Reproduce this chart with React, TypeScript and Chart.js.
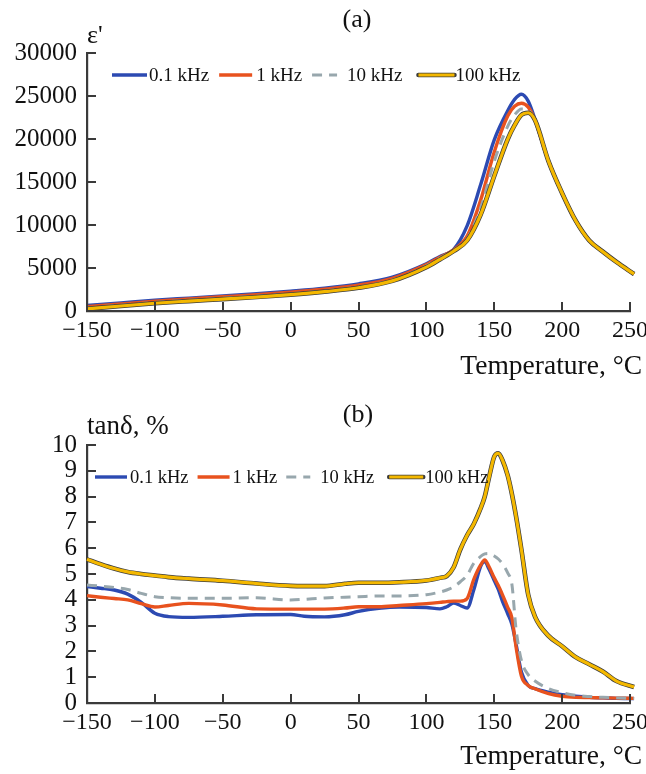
import React, { useEffect, useRef } from 'react';
import { Chart, registerables } from 'chart.js';

Chart.register(...registerables);

const FONT = '"Liberation Serif", "Times New Roman", serif';
const AXIS_COLOR = '#3a3a3a';
const TEXT_COLOR = '#111111';

const seriesLabels = ['0.1 kHz', '1 kHz', '10 kHz', '100 kHz'];
const seriesColors = ['#2C4AB2', '#E8521E', '#98A7AD', '#F4B800'];

const xTicks = [-150, -100, -50, 0, 50, 100, 150, 200, 250];
const yTicksA = [0, 5000, 10000, 15000, 20000, 25000, 30000];
const yTicksB = [0, 1, 2, 3, 4, 5, 6, 7, 8, 9, 10];

// Panel (a): dielectric permittivity
const tempA = [-150, -125, -100, -75, -50, -25, 0, 25, 50, 75, 100, 110, 120, 130, 140, 150, 160, 165, 170, 175, 180, 190, 200, 210, 220, 230, 240, 253];
const epsA01 = [650, 950, 1250, 1500, 1750, 2000, 2300, 2650, 3150, 3950, 5500, 6350, 7150, 9900, 14700, 19900, 23300, 24600, 25200, 24400, 22300, 17400, 13700, 10500, 8200, 6900, 5700, 4300];
const epsA1 = [500, 820, 1130, 1400, 1650, 1900, 2200, 2550, 3000, 3800, 5400, 6250, 7100, 8700, 12900, 18500, 22700, 23800, 24150, 23700, 22200, 17400, 13700, 10500, 8200, 6900, 5700, 4300];
const epsA10 = [350, 680, 1000, 1250, 1480, 1720, 2000, 2350, 2800, 3600, 5250, 6150, 7050, 8400, 12000, 17400, 21500, 22800, 23500, 23350, 22200, 17400, 13700, 10500, 8200, 6900, 5700, 4300];
const epsA100 = [250, 580, 900, 1150, 1380, 1620, 1900, 2250, 2700, 3500, 5100, 6000, 6950, 8200, 11200, 15700, 20000, 21600, 22800, 23050, 22200, 17400, 13700, 10500, 8200, 6900, 5700, 4300];

// Panel (b): loss tangent
const tempB = [-150, -140, -130, -120, -110, -100, -90, -75, -50, -25, 0, 10, 25, 40, 50, 65, 80, 100, 110, 115, 120, 125, 130, 135, 140, 143, 146, 150, 153, 156, 160, 163, 166, 170, 175, 180, 190, 200, 210, 220, 230, 240, 253];
const tanB01 = [4.51, 4.45, 4.38, 4.22, 3.9, 3.48, 3.35, 3.32, 3.36, 3.42, 3.43, 3.36, 3.34, 3.42, 3.55, 3.67, 3.72, 3.7, 3.65, 3.73, 3.87, 3.78, 3.68, 4.4, 5.3, 5.48, 5.2, 4.75, 4.4, 3.95, 3.45, 3.05, 2.3, 1.2, 0.68, 0.56, 0.42, 0.32, 0.26, 0.22, 0.2, 0.18, 0.17];
const tanB1 = [4.16, 4.1, 4.05, 4.0, 3.85, 3.72, 3.78, 3.86, 3.8, 3.65, 3.64, 3.64, 3.64, 3.68, 3.73, 3.73, 3.78, 3.85, 3.9, 3.93, 3.95, 3.95, 4.05, 4.8, 5.35, 5.54, 5.3, 4.85, 4.55, 4.2, 3.7, 3.3, 2.2, 1.05, 0.68, 0.55, 0.36, 0.26, 0.22, 0.21, 0.2, 0.19, 0.18];
const tanB10 = [4.57, 4.53, 4.48, 4.4, 4.25, 4.12, 4.08, 4.06, 4.06, 4.08, 3.99, 4.02, 4.07, 4.1, 4.12, 4.15, 4.15, 4.2, 4.3, 4.38, 4.5, 4.7, 4.95, 5.42, 5.68, 5.78, 5.8, 5.7, 5.58, 5.4, 5.03, 4.6, 2.9, 1.65, 1.1, 0.85, 0.56, 0.4, 0.3, 0.25, 0.22, 0.2, 0.18];
const tanB100 = [5.57, 5.38, 5.21, 5.08, 5.0, 4.94, 4.88, 4.82, 4.74, 4.63, 4.54, 4.53, 4.53, 4.62, 4.66, 4.66, 4.68, 4.75, 4.85, 4.92, 5.25, 5.95, 6.5, 6.95, 7.55, 8.0, 8.7, 9.55, 9.68, 9.42, 8.8, 8.1, 7.25, 5.95, 4.2, 3.35, 2.6, 2.2, 1.78, 1.5, 1.22, 0.85, 0.62];

const fmtTick = (v: number) => (v < 0 ? '\u2212' + Math.abs(v) : String(v));

const decorPlugin = {
  id: 'decor',
  afterDraw(chart: any, _args: any, opts: any) {
    const ctx = chart.ctx as CanvasRenderingContext2D;
    const xs = chart.scales.x;
    const ys = chart.scales.y;
    const area = chart.chartArea;
    ctx.save();
    // inward tick marks
    ctx.strokeStyle = AXIS_COLOR;
    ctx.lineWidth = 2;
    ctx.beginPath();
    xs.ticks.forEach((t: any) => {
      const px = Math.round(xs.getPixelForValue(t.value));
      ctx.moveTo(px, area.bottom);
      ctx.lineTo(px, area.bottom - 9);
    });
    ys.ticks.forEach((t: any) => {
      const py = Math.round(ys.getPixelForValue(t.value));
      ctx.moveTo(area.left, py);
      ctx.lineTo(area.left + 9, py);
    });
    ctx.stroke();

    // annotation texts
    ctx.fillStyle = TEXT_COLOR;
    ctx.textBaseline = 'middle';
    (opts.texts || []).forEach((t: any) => {
      ctx.font = `${t.size}px ${FONT}`;
      ctx.textAlign = t.align;
      ctx.fillText(t.text, t.x, t.y);
    });

    // legend
    const lg = opts.legend;
    ctx.font = `${lg.size}px ${FONT}`;
    ctx.textAlign = 'left';
    let lx = lg.x;
    let k = 0;
    chart.data.datasets.forEach((ds: any) => {
      if (!ds.label) return;
      const len = lg.lineLengths[k];
      const gap = lg.textGaps[k];
      if (ds.legendOutline) {
        ctx.setLineDash([]);
        ctx.strokeStyle = ds.legendOutline;
        ctx.lineWidth = ds.borderWidth + 1.4;
        ctx.lineCap = 'round';
        ctx.beginPath();
        ctx.moveTo(lx, lg.y);
        ctx.lineTo(lx + len, lg.y);
        ctx.stroke();
      }
      ctx.lineCap = 'butt';
      ctx.setLineDash(ds.borderDash || []);
      ctx.strokeStyle = ds.borderColor;
      ctx.lineWidth = ds.borderWidth;
      ctx.beginPath();
      ctx.moveTo(lx, lg.y);
      ctx.lineTo(lx + len, lg.y);
      ctx.stroke();
      ctx.setLineDash([]);
      const tx = lx + len + gap;
      ctx.fillStyle = TEXT_COLOR;
      ctx.fillText(ds.label, tx, lg.y + 1);
      lx = tx + ctx.measureText(ds.label).width + (lg.itemGaps[k] || 0);
      k++;
    });
    ctx.restore();
  },
};

function buildDatasets(temps: number[], series: number[][]) {
  const pts = (vals: number[]) => temps.map((t, i) => ({ x: t, y: vals[i] }));
  const common = {
    pointRadius: 0,
    fill: false,
    cubicInterpolationMode: 'monotone' as const,
    clip: false as any,
  };
  return [
    { ...common, label: seriesLabels[0], data: pts(series[0]), borderColor: seriesColors[0], borderWidth: 3.4, order: 4 },
    { ...common, label: seriesLabels[1], data: pts(series[1]), borderColor: seriesColors[1], borderWidth: 3.4, order: 3 },
    { ...common, label: seriesLabels[2], data: pts(series[2]), borderColor: seriesColors[2], borderWidth: 3, borderDash: [10, 7], order: 2 },
    { ...common, label: '', data: pts(series[3]), borderColor: '#3c3c3c', borderWidth: 4.6, order: 1 },
    { ...common, label: seriesLabels[3], data: pts(series[3]), borderColor: seriesColors[3], borderWidth: 3.2, order: 0, legendOutline: '#3c3c3c' },
  ];
}

function makeConfig(p: {
  temps: number[];
  series: number[][];
  yMin: number;
  yMax: number;
  yTicks: number[];
  padTop: number;
  xHeight: number;
  texts: any[];
  legend: any;
}) {
  return {
    type: 'line' as const,
    data: { datasets: buildDatasets(p.temps, p.series) },
    plugins: [decorPlugin],
    options: {
      responsive: false,
      animation: false as const,
      devicePixelRatio: 1,
      layout: { padding: { top: p.padTop, left: 0, right: 16, bottom: 0 } },
      plugins: {
        legend: { display: false },
        title: { display: false },
        tooltip: { enabled: false },
        decor: { texts: p.texts, legend: p.legend },
      },
      scales: {
        x: {
          type: 'linear' as const,
          min: -150,
          max: 250,
          afterBuildTicks: (s: any) => {
            s.ticks = xTicks.map((v) => ({ value: v }));
          },
          afterFit: (s: any) => {
            s.height = p.xHeight;
            s.paddingLeft = 0;
            s.paddingRight = 0;
          },
          grid: { display: false, drawTicks: false },
          border: { display: true, color: AXIS_COLOR, width: 2.2 },
          ticks: {
            autoSkip: false,
            maxRotation: 0,
            padding: 5,
            color: TEXT_COLOR,
            font: { family: FONT, size: 24 },
            callback: (v: any) => fmtTick(Number(v)),
          },
        },
        y: {
          type: 'linear' as const,
          min: p.yMin,
          max: p.yMax,
          afterBuildTicks: (s: any) => {
            s.ticks = p.yTicks.map((v) => ({ value: v }));
          },
          afterFit: (s: any) => {
            s.width = 87;
          },
          grid: { display: false, drawTicks: false },
          border: { display: true, color: AXIS_COLOR, width: 2.2 },
          ticks: {
            autoSkip: false,
            padding: 10,
            color: TEXT_COLOR,
            font: { family: FONT, size: 25 },
            callback: (v: any) => String(v),
          },
        },
      },
    },
  };
}

function Panel(props: { config: any }) {
  const ref = useRef<HTMLCanvasElement | null>(null);
  useEffect(() => {
    if (!ref.current) return;
    const chart = new Chart(ref.current, props.config);
    return () => chart.destroy();
  }, [props.config]);
  return <canvas ref={ref} width={646} height={387} style={{ display: 'block', width: 646, height: 387 }} />;
}

const configA = makeConfig({
  temps: tempA,
  series: [epsA01, epsA1, epsA10, epsA100],
  yMin: 0,
  yMax: 30000,
  yTicks: yTicksA,
  padTop: 53,
  xHeight: 76,
  texts: [
    { text: '(a)', x: 357, y: 20, align: 'center', size: 26 },
    { text: "\u03B5'", x: 87, y: 36, align: 'left', size: 26 },
    { text: 'Temperature, \u00B0C', x: 642, y: 367, align: 'right', size: 27.5 },
  ],
  legend: { x: 112, y: 75, size: 19, lineLengths: [35, 33, 25, 36], textGaps: [2, 4, 10, 1], itemGaps: [10, 10, 16, 0] },
});

const configB = makeConfig({
  temps: tempB,
  series: [tanB01, tanB1, tanB10, tanB100],
  yMin: 0,
  yMax: 10,
  yTicks: yTicksB,
  padTop: 58,
  xHeight: 71,
  texts: [
    { text: '(b)', x: 358, y: 28, align: 'center', size: 26 },
    { text: 'tan\u03B4, %', x: 87, y: 40, align: 'left', size: 27 },
    { text: 'Temperature, \u00B0C', x: 642, y: 370, align: 'right', size: 27.5 },
  ],
  legend: { x: 95, y: 90, size: 18.5, lineLengths: [32, 32, 24, 34], textGaps: [3, 3, 10, 2], itemGaps: [9, 9, 15, 0] },
});

export default function App() {
  return (
    <div style={{ position: 'absolute', left: 0, top: 0, width: 646, height: 774, background: '#ffffff' }}>
      <Panel config={configA} />
      <Panel config={configB} />
    </div>
  );
}
